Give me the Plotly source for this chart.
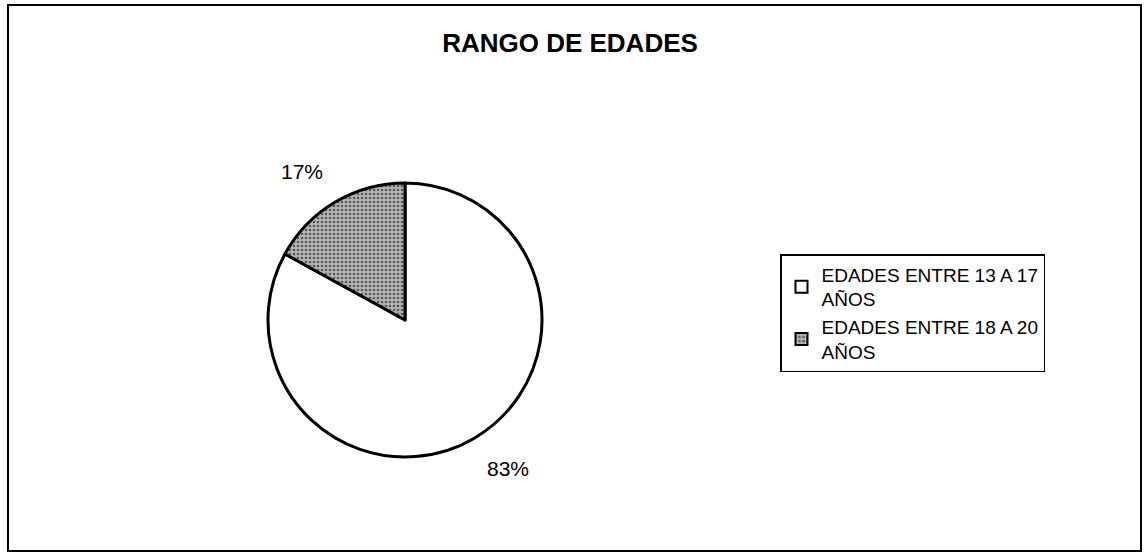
import math
import plotly.graph_objects as go

labels = ["EDADES ENTRE 13 A 17<br>AÑOS", "EDADES ENTRE 18 A 20<br>AÑOS"]
values = [83, 17]
colors = ["#ffffff", "#a9a9a9"]
title_text = "RANGO DE EDADES"

W, H = 1144, 554
cx, cy, r = 405, 320, 137
FONT = "Liberation Sans, Arial"

fig = go.Figure(go.Pie(
    labels=labels,
    values=values,
    sort=False,
    direction="clockwise",
    rotation=0,
    textinfo="none",
    marker=dict(colors=colors, line=dict(color="black", width=3),
                pattern=dict(shape=["", "."], fgcolor="#5a5a5a",
                             bgcolor=["#ffffff", "#b4b4b4"], size=4, solidity=0.35)),
    domain=dict(x=[(cx - r) / W, (cx + r) / W], y=[1 - (cy + r) / H, 1 - (cy - r) / H]),
    hoverinfo="skip",
))

# percentage labels placed outside each slice, derived from the values
total = sum(values)
annotations = []
cum = 0.0
R = r + 20
for v in values:
    mid = (cum + v / 2) / total
    cum += v
    th = 2 * math.pi * mid
    sx = cx + math.sin(th) * R
    sy = cy - math.cos(th) * R
    annotations.append(dict(
        x=sx / W, y=1 - sy / H, xref="paper", yref="paper",
        text=f"{round(100 * v / total)}%", showarrow=False,
        xanchor="left" if math.sin(th) > 0 else "right",
        yanchor="top" if math.cos(th) < 0 else "bottom",
        font=dict(family=FONT, size=21, color="black"),
    ))

fig.update_layout(
    width=W, height=H,
    margin=dict(l=0, r=0, t=0, b=0),
    paper_bgcolor="white",
    font=dict(family=FONT, color="black"),
    title=dict(text="<b>" + title_text + "</b>", x=570 / W, xanchor="center",
               y=1 - 43 / H, yanchor="middle",
               font=dict(size=26, family=FONT, color="black")),
    legend=dict(x=780 / W, xanchor="left", y=1 - 313 / H, yanchor="middle",
                bordercolor="black", borderwidth=1.5, bgcolor="white",
                font=dict(size=19, family=FONT, color="black"),
                itemsizing="constant", tracegroupgap=0),
    annotations=annotations,
    shapes=[dict(type="rect", xref="paper", yref="paper",
                 x0=8 / W, x1=1141 / W, y0=1 - 551 / H, y1=1 - 5 / H,
                 line=dict(color="black", width=2))],
    showlegend=True,
)

fig.write_html("out.html", config={"displayModeBar": False},
               post_script="document.body.style.margin='0px';document.body.style.overflow='hidden';")
